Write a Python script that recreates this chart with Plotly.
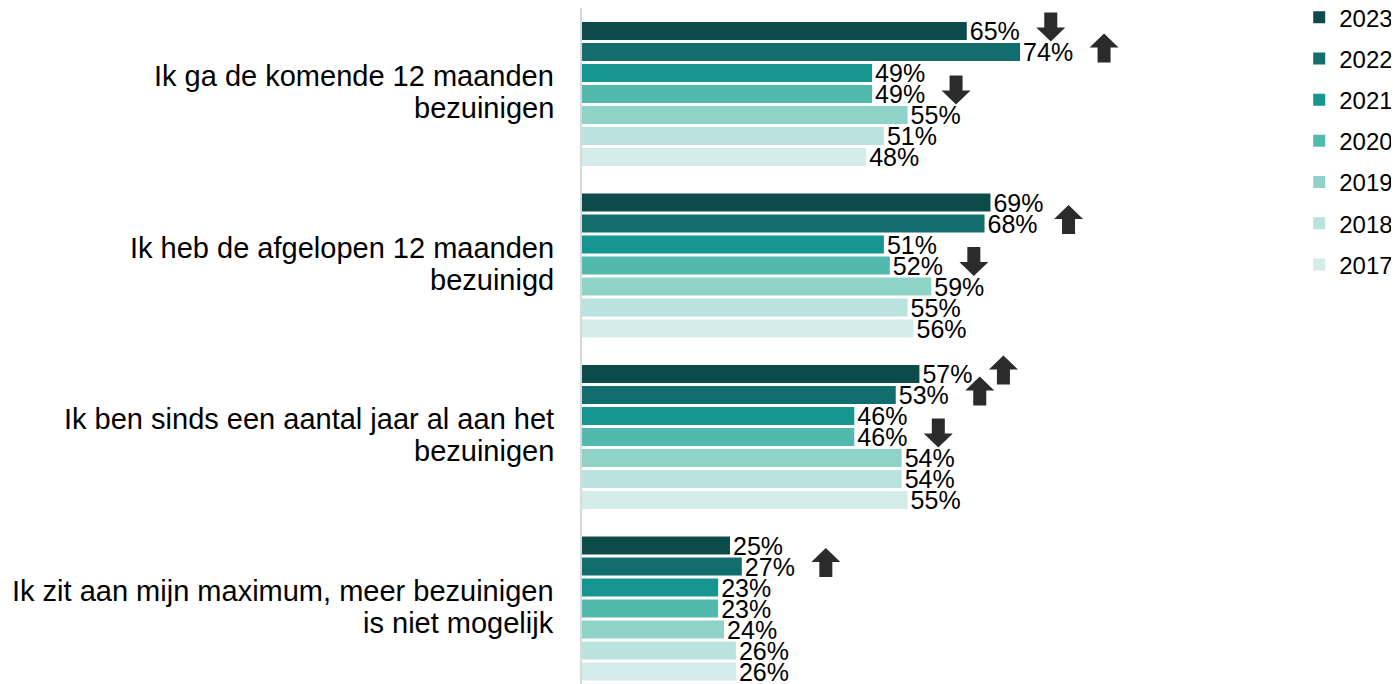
import plotly.graph_objects as go

categories = [
    "Ik ga de komende 12 maanden<br>bezuinigen",
    "Ik heb de afgelopen 12 maanden<br>bezuinigd",
    "Ik ben sinds een aantal jaar al aan het<br>bezuinigen",
    "Ik zit aan mijn maximum, meer bezuinigen<br>is niet mogelijk",
]
years = ["2023", "2022", "2021", "2020", "2019", "2018", "2017"]
values = {
    "2023": [65, 69, 57, 25],
    "2022": [74, 68, 53, 27],
    "2021": [49, 51, 46, 23],
    "2020": [49, 52, 46, 23],
    "2019": [55, 59, 54, 24],
    "2018": [51, 55, 54, 26],
    "2017": [48, 56, 55, 26],
}
# significant change markers: (category index, year) -> direction
trends = {
    (0, "2023"): "down", (0, "2022"): "up", (0, "2020"): "down",
    (1, "2022"): "up", (1, "2020"): "down",
    (2, "2023"): "up", (2, "2022"): "up", (2, "2020"): "down",
    (3, "2022"): "up",
}
colors = ["#0d4a4a", "#116e6c", "#169591", "#52b9ad", "#8fd2c8", "#bae3df", "#d3ece9"]

FONT = "Arial, Liberation Sans, sans-serif"
BARGAP = 0.143
GROUPGAP = 0.14
ARROW_DX = 84   # pixel offset of arrow centre from bar end
ARROW_DY = 4    # pixel lift of arrow centre above bar centre

fig = go.Figure()
ypos = list(range(len(categories)))
for i, yr in enumerate(years):
    fig.add_trace(go.Bar(
        x=values[yr], y=ypos, orientation="h", name=yr,
        marker=dict(color=colors[i], line=dict(width=0)),
        text=[f"{v}%" for v in values[yr]], textposition="outside",
        textfont=dict(size=25, color="#000000", family=FONT),
        constraintext="none", cliponaxis=False,
        legendgroup=yr,
    ))


def arrow_path(direction, dx, dy):
    s = -1 if direction == "down" else 1
    pts = [(-6.5, -14.5), (6.5, -14.5), (6.5, 0.5), (14.5, 0.5), (0, 14.5), (-14.5, 0.5), (-6.5, 0.5)]
    return "M " + " L ".join(f"{px + dx},{s * py + dy}" for px, py in pts) + " Z"


n = len(years)
slot = (1 - BARGAP) / n
for (ci, yr), d in trends.items():
    i = years.index(yr)
    yc = ci - (1 - BARGAP) / 2 + (i + 0.5) * slot
    fig.add_shape(
        type="path", xref="x", yref="y",
        xsizemode="pixel", ysizemode="pixel",
        xanchor=values[yr][ci], yanchor=yc,
        path=arrow_path(d, ARROW_DX, ARROW_DY),
        fillcolor="#2b2b2b", line=dict(width=0), layer="above",
    )

# category labels (two lines each, right aligned left of the axis)
for ci, cat in enumerate(categories):
    lines = cat.split("<br>")
    for li, txt in enumerate(lines):
        fig.add_annotation(
            text=txt, xref="paper", yref="y", x=0, y=ci,
            xanchor="right", yanchor="middle", showarrow=False,
            xshift=-26, yshift=(18 if li == 0 else -14),
            font=dict(size=29, family=FONT, color="#000000"),
        )

fig.update_layout(
    width=1391, height=676,
    margin=dict(l=574, r=109, t=0, b=0, autoexpand=False),
    paper_bgcolor="white", plot_bgcolor="rgba(0,0,0,0)",
    barmode="group", bargap=BARGAP, bargroupgap=GROUPGAP,
    font=dict(family=FONT, color="#000000"),
    showlegend=True,
    legend=dict(x=1.013, y=1.019, xanchor="left", yanchor="top",
                font=dict(size=24, family=FONT, color="#000000"),
                traceorder="grouped", tracegroupgap=7,
                bgcolor="rgba(0,0,0,0)"),
    xaxis=dict(range=[0, 119.6], visible=False, showgrid=False, zeroline=False),
    yaxis=dict(range=[3.44, -0.5015], tickmode="array", tickvals=ypos,
               showticklabels=False,
               showline=True, linecolor="#d9d9d9", linewidth=2, showgrid=False, zeroline=False,
               ticks=""),
)

fig.write_html("out.html")
